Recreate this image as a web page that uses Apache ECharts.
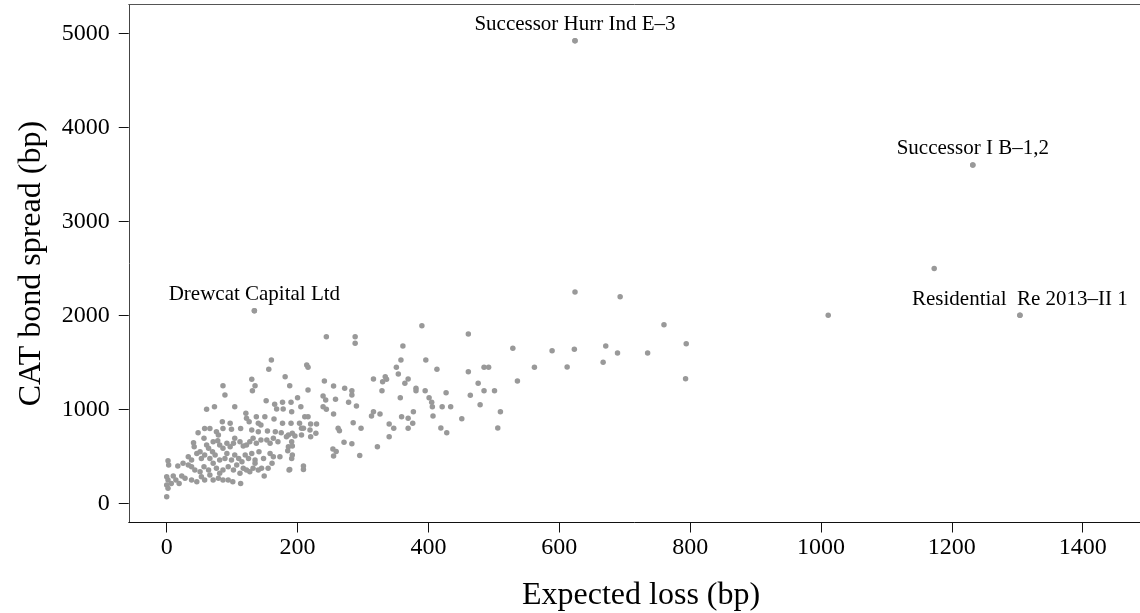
<!DOCTYPE html>
<html>
<head>
<meta charset="utf-8">
<script src="https://cdn.jsdelivr.net/npm/echarts@6/dist/echarts.min.js"></script>
<style>
html,body{margin:0;padding:0;background:#fff;}
#chart{width:1140px;height:613px;}
</style>
</head>
<body>
<div id="chart"></div>
<script>
// Expected loss (bp) and CAT bond spread (bp) for each bond
const expectedLoss = [
  134,160,156,181,130,
  135,86,188,131,89,152,177,190,165,104,73,61,168,178,191,121,122,137,150,164,85,97,140,144,177,190,126,
  48,58,66,76,79,86,99,113,130,140,154,166,175,186,
  41,42,57,61,64,71,78,81,86,92,97,102,104,112,117,122,127,132,137,144,153,158,163,170,183,191,186,
  33,38,46,51,53,58,66,70,74,81,89,92,99,104,110,115,120,125,130,135,141,148,158,163,173,185,192,
  2,3,17,25,33,38,43,51,57,64,71,76,81,86,94,102,107,112,117,122,127,132,135,140,145,155,161,187,
  0,2,10,14,19,23,28,38,46,53,58,66,71,79,86,94,101,113,149,
  0,2,7,0,
  390,244,288,288,361,358,396,214,216,351,354,316,334,336,330,369,364,241,255,272,283,381,381,395,329,216,239,243,258,283,200,357,401,278,290,239,244,205,211,216,255,316,326,313,377,359,369,203,220,229,206,209,192,196,206,219,220,228,262,264,285,297,340,347,340,369,376,192,271,283,254,259,255,295,322,
  191,188,209,209,
  461,529,589,413,461,485,492,562,476,536,427,485,501,464,405,406,421,434,479,407,451,510,419,428,506,
  624,693,760,794,623,671,689,735,667,612,793,
  1232,1173,1011,1304,624
];
const spread = [
  2049,1524,1426,1347,1319,
  1251,1251,1251,1198,1152,1092,1074,1074,1053,1028,1028,1000,1003,1003,975,957,904,922,922,897,868,851,851,833,851,851,868,
  751,797,797,762,727,797,787,797,780,762,769,762,751,727,
  645,602,691,620,585,656,666,620,585,638,602,638,691,656,610,620,656,691,638,673,673,638,691,656,709,656,602,
  496,461,531,549,478,514,478,549,514,461,478,531,461,514,478,443,514,478,531,461,549,478,531,496,496,560,514,
  453,407,397,425,407,390,354,336,390,354,425,372,319,354,390,354,407,319,372,354,336,372,425,354,372,372,425,354,
  283,248,290,248,212,290,266,248,230,283,248,301,248,266,248,248,230,212,290,
  195,159,212,70,
  1890,1773,1773,1702,1673,1525,1525,1471,1447,1447,1376,1322,1347,1319,1294,1322,1276,1301,1248,1223,1198,1223,1198,1198,1198,1205,1142,1099,1106,1152,1124,1124,1124,1074,1035,1028,1000,1028,922,922,950,975,950,929,975,922,904,851,844,844,798,798,745,716,727,780,709,745,798,773,858,798,844,798,709,798,851,610,649,635,578,550,503,510,603,
  478,361,397,361,
  1801,1649,1624,1425,1400,1447,1447,1447,1276,1301,1177,1198,1198,1149,1074,1028,1028,1028,1049,929,900,975,801,752,801,
  2248,2198,1900,1698,1638,1674,1599,1599,1500,1450,1326,
  3599,2499,2000,2000,4920
];
// Annotated bonds
const labelNames = ['Successor Hurr Ind E\u20133', 'Successor I B\u20131,2', 'Drewcat Capital Ltd', 'Residential  Re 2013\u2013II 1'];
const labelX = [624, 1232, 134, 1304];
const labelY = [4920, 3599, 2049, 2000];
const xTicks = [0, 200, 400, 600, 800, 1000, 1200, 1400];
const yTicks = [0, 1000, 2000, 3000, 4000, 5000];

const FONT = '"Liberation Serif", "DejaVu Serif", serif';
const chart = echarts.init(document.getElementById('chart'), null, {renderer: 'canvas'});
const pts = expectedLoss.map((x, i) => [x, spread[i]]);
const labPts = labelX.map((x, i) => ({value: [x, labelY[i]], name: labelNames[i]}));
const plain = v => String(v);

chart.setOption({
  animation: false,
  backgroundColor: '#fff',
  grid: {
    left: 128.75, top: 4.7, width: 1024.65, height: 517.8,
    outerBoundsMode: 'none', containLabel: false,
    show: false
  },
  xAxis: [{
    type: 'value', min: -58, max: 1508, position: 'bottom',
    axisLine: {show: true, onZero: false, lineStyle: {color: '#111', width: 1}},
    splitLine: {show: false},
    axisTick: {show: true, inside: false, customValues: xTicks, length: 10, lineStyle: {color: '#111', width: 1}},
    axisLabel: {customValues: xTicks, formatter: plain, fontSize: 24, fontFamily: FONT, color: '#000', margin: 13},
    name: 'Expected loss (bp)', nameLocation: 'middle', nameGap: 57,
    nameTextStyle: {fontSize: 32, fontFamily: FONT, color: '#000'}
  }, {
    type: 'value', min: -58, max: 1508, position: 'top',
    axisLine: {show: true, onZero: false, lineStyle: {color: '#555', width: 1}},
    splitLine: {show: false}, axisTick: {show: false}, axisLabel: {show: false}
  }],
  yAxis: {
    type: 'value', min: -204, max: 5304,
    axisLine: {show: true, onZero: false, lineStyle: {color: '#444', width: 1}},
    splitLine: {show: false},
    axisTick: {show: true, inside: false, customValues: yTicks, length: 10, lineStyle: {color: '#111', width: 1}},
    axisLabel: {customValues: yTicks, formatter: plain, fontSize: 24, fontFamily: FONT, color: '#000', margin: 19},
    name: 'CAT bond spread (bp)', nameLocation: 'middle', nameGap: 81,
    nameTextStyle: {fontSize: 32, fontFamily: FONT, color: '#000'}
  },
  series: [
    {
      type: 'scatter', data: pts, symbolSize: 5.5,
      itemStyle: {color: '#999999', opacity: 1}
    },
    {
      type: 'scatter', data: labPts, symbolSize: 5.5,
      itemStyle: {color: '#999999', opacity: 1},
      label: {
        show: true, position: 'top', distance: 3,
        formatter: p => p.name,
        fontSize: 21, fontFamily: FONT, color: '#000', lineHeight: 21
      }
    }
  ]
});
</script>
</body>
</html>
